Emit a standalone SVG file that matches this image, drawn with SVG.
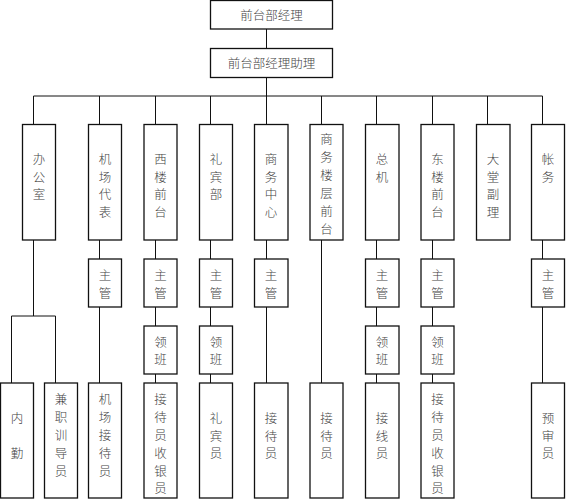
<svg xmlns="http://www.w3.org/2000/svg" width="566" height="500" viewBox="0 0 566 500">
<style>
.b{fill:#fff;stroke:#111;stroke-width:1.3}
.t{font-family:"Noto Sans CJK SC","Noto Sans CJK JP",sans-serif;font-size:12.5px;font-weight:300;fill:#444;text-anchor:middle;dominant-baseline:central}
.c{fill:none;stroke:#111;stroke-width:1}
</style>
<rect width="566" height="500" fill="#fff"/>
<g id="connectors" class="c">
<path d="M266.5 29V48.5M266.5 77.5V96M33.5 96H542.5"/>
<path d="M33.5 96V124.5M99.5 96V124.5M155.5 96V124.5M210.5 96V124.5M266.5 96V124.5M321.5 96V124.5M376.5 96V124.5M432.5 96V124.5M487.5 96V124.5M542.5 96V124.5"/>
<path d="M33.5 240V316M11.5 316H55.5M11.5 316V383M55.5 316V383"/>
<path d="M99.5 240V259M99.5 307V383"/>
<path d="M155.5 240V259M155.5 307V326M155.5 374V383"/>
<path d="M210.5 240V259M210.5 307V326M210.5 374V383"/>
<path d="M266.5 240V259M266.5 307V383"/>
<path d="M321.5 240V383"/>
<path d="M376.5 240V259M376.5 307V326M376.5 374V383"/>
<path d="M432.5 240V259M432.5 307V326M432.5 374V383"/>
<path d="M542.5 240V259M542.5 307V383"/>
</g>
<g id="n-manager"><rect class="b" x="210.5" y="0.5" width="122" height="28.5"/><text class="t" x="271.5" y="14.5">前台部经理</text></g>
<g id="n-assistant"><rect class="b" x="210.5" y="48.5" width="122" height="29"/><text class="t" x="271.5" y="62">前台部经理助理</text></g>

<g id="n-office"><rect class="b" x="22.5" y="124.5" width="33" height="115.5"/><text class="t"><tspan x="39" y="158">办</tspan><tspan x="39" dy="17.7">公</tspan><tspan x="39" dy="17.7">室</tspan></text></g>
<g id="n-airport"><rect class="b" x="88.5" y="124.5" width="33" height="115.5"/><text class="t"><tspan x="105" y="158">机</tspan><tspan x="105" dy="17.7">场</tspan><tspan x="105" dy="17.7">代</tspan><tspan x="105" dy="17.7">表</tspan></text></g>
<g id="n-west"><rect class="b" x="144" y="124.5" width="33" height="115.5"/><text class="t"><tspan x="160.5" y="158">西</tspan><tspan x="160.5" dy="17.7">楼</tspan><tspan x="160.5" dy="17.7">前</tspan><tspan x="160.5" dy="17.7">台</tspan></text></g>
<g id="n-concierge"><rect class="b" x="199.5" y="124.5" width="33" height="115.5"/><text class="t"><tspan x="216" y="158">礼</tspan><tspan x="216" dy="17.7">宾</tspan><tspan x="216" dy="17.7">部</tspan></text></g>
<g id="n-business"><rect class="b" x="254.5" y="124.5" width="33.5" height="115.5"/><text class="t"><tspan x="271" y="158">商</tspan><tspan x="271" dy="17.7">务</tspan><tspan x="271" dy="17.7">中</tspan><tspan x="271" dy="17.7">心</tspan></text></g>
<g id="n-bizfloor"><rect class="b" x="310" y="124.5" width="33" height="115.5"/><text class="t"><tspan x="326.5" y="138">商</tspan><tspan x="326.5" dy="18">务</tspan><tspan x="326.5" dy="18">楼</tspan><tspan x="326.5" dy="18">层</tspan><tspan x="326.5" dy="18">前</tspan><tspan x="326.5" dy="18">台</tspan></text></g>
<g id="n-operator"><rect class="b" x="365.5" y="124.5" width="33.5" height="115.5"/><text class="t"><tspan x="382" y="158">总</tspan><tspan x="382" dy="17.7">机</tspan></text></g>
<g id="n-east"><rect class="b" x="421" y="124.5" width="33" height="115.5"/><text class="t"><tspan x="437.5" y="158">东</tspan><tspan x="437.5" dy="17.7">楼</tspan><tspan x="437.5" dy="17.7">前</tspan><tspan x="437.5" dy="17.7">台</tspan></text></g>
<g id="n-lobby"><rect class="b" x="476.5" y="124.5" width="33.5" height="115.5"/><text class="t"><tspan x="493" y="158">大</tspan><tspan x="493" dy="17.7">堂</tspan><tspan x="493" dy="17.7">副</tspan><tspan x="493" dy="17.7">理</tspan></text></g>
<g id="n-accounts"><rect class="b" x="531.5" y="124.5" width="33" height="115.5"/><text class="t"><tspan x="548" y="158">帐</tspan><tspan x="548" dy="17.7">务</tspan></text></g>

<g id="n-sup-airport"><rect class="b" x="88.5" y="259" width="33" height="48"/><text class="t"><tspan x="105" y="274">主</tspan><tspan x="105" dy="17.7">管</tspan></text></g>
<g id="n-sup-west"><rect class="b" x="144" y="259" width="33" height="48"/><text class="t"><tspan x="160.5" y="274">主</tspan><tspan x="160.5" dy="17.7">管</tspan></text></g>
<g id="n-sup-concierge"><rect class="b" x="199.5" y="259" width="33" height="48"/><text class="t"><tspan x="216" y="274">主</tspan><tspan x="216" dy="17.7">管</tspan></text></g>
<g id="n-sup-business"><rect class="b" x="254.5" y="259" width="33.5" height="48"/><text class="t"><tspan x="271" y="274">主</tspan><tspan x="271" dy="17.7">管</tspan></text></g>
<g id="n-sup-operator"><rect class="b" x="365.5" y="259" width="33.5" height="48"/><text class="t"><tspan x="382" y="274">主</tspan><tspan x="382" dy="17.7">管</tspan></text></g>
<g id="n-sup-east"><rect class="b" x="421" y="259" width="33" height="48"/><text class="t"><tspan x="437.5" y="274">主</tspan><tspan x="437.5" dy="17.7">管</tspan></text></g>
<g id="n-sup-accounts"><rect class="b" x="531.5" y="259" width="33" height="48"/><text class="t"><tspan x="548" y="274">主</tspan><tspan x="548" dy="17.7">管</tspan></text></g>

<g id="n-lead-west"><rect class="b" x="144" y="326" width="33" height="48"/><text class="t"><tspan x="160.5" y="340.5">领</tspan><tspan x="160.5" dy="17.7">班</tspan></text></g>
<g id="n-lead-concierge"><rect class="b" x="199.5" y="326" width="33" height="48"/><text class="t"><tspan x="216" y="340.5">领</tspan><tspan x="216" dy="17.7">班</tspan></text></g>
<g id="n-lead-operator"><rect class="b" x="365.5" y="326" width="33.5" height="48"/><text class="t"><tspan x="382" y="340.5">领</tspan><tspan x="382" dy="17.7">班</tspan></text></g>
<g id="n-lead-east"><rect class="b" x="421" y="326" width="33" height="48"/><text class="t"><tspan x="437.5" y="340.5">领</tspan><tspan x="437.5" dy="17.7">班</tspan></text></g>

<g id="n-clerk"><rect class="b" x="0.5" y="383" width="33" height="115"/><text class="t"><tspan x="17" y="416.7">内</tspan><tspan x="17" dy="35">勤</tspan></text></g>
<g id="n-trainer"><rect class="b" x="44.5" y="383" width="33" height="115"/><text class="t"><tspan x="61" y="398.3">兼</tspan><tspan x="61" dy="17.8">职</tspan><tspan x="61" dy="17.8">训</tspan><tspan x="61" dy="17.8">导</tspan><tspan x="61" dy="17.8">员</tspan></text></g>
<g id="n-airport-recep"><rect class="b" x="88.5" y="383" width="33" height="115"/><text class="t"><tspan x="105" y="398.3">机</tspan><tspan x="105" dy="17.8">场</tspan><tspan x="105" dy="17.8">接</tspan><tspan x="105" dy="17.8">待</tspan><tspan x="105" dy="17.8">员</tspan></text></g>
<g id="n-west-recep"><rect class="b" x="144" y="383" width="33" height="115"/><text class="t"><tspan x="160.5" y="398.3">接</tspan><tspan x="160.5" dy="17.8">待</tspan><tspan x="160.5" dy="17.8">员</tspan><tspan x="160.5" dy="17.8">收</tspan><tspan x="160.5" dy="17.8">银</tspan><tspan x="160.5" dy="17.8">员</tspan></text></g>
<g id="n-bellman"><rect class="b" x="199.5" y="383" width="33" height="115"/><text class="t"><tspan x="216" y="416.7">礼</tspan><tspan x="216" dy="17.8">宾</tspan><tspan x="216" dy="17.8">员</tspan></text></g>
<g id="n-business-recep"><rect class="b" x="254.5" y="383" width="33.5" height="115"/><text class="t"><tspan x="271" y="416.7">接</tspan><tspan x="271" dy="17.8">待</tspan><tspan x="271" dy="17.8">员</tspan></text></g>
<g id="n-bizfloor-recep"><rect class="b" x="310" y="383" width="33" height="115"/><text class="t"><tspan x="326.5" y="416.7">接</tspan><tspan x="326.5" dy="17.8">待</tspan><tspan x="326.5" dy="17.8">员</tspan></text></g>
<g id="n-op-staff"><rect class="b" x="365.5" y="383" width="33.5" height="115"/><text class="t"><tspan x="382" y="416.7">接</tspan><tspan x="382" dy="17.8">线</tspan><tspan x="382" dy="17.8">员</tspan></text></g>
<g id="n-east-recep"><rect class="b" x="421" y="383" width="33" height="115"/><text class="t"><tspan x="437.5" y="398.3">接</tspan><tspan x="437.5" dy="17.8">待</tspan><tspan x="437.5" dy="17.8">员</tspan><tspan x="437.5" dy="17.8">收</tspan><tspan x="437.5" dy="17.8">银</tspan><tspan x="437.5" dy="17.8">员</tspan></text></g>
<g id="n-auditor"><rect class="b" x="531.5" y="383" width="33" height="115"/><text class="t"><tspan x="548" y="416.7">预</tspan><tspan x="548" dy="17.8">审</tspan><tspan x="548" dy="17.8">员</tspan></text></g>
</svg>
